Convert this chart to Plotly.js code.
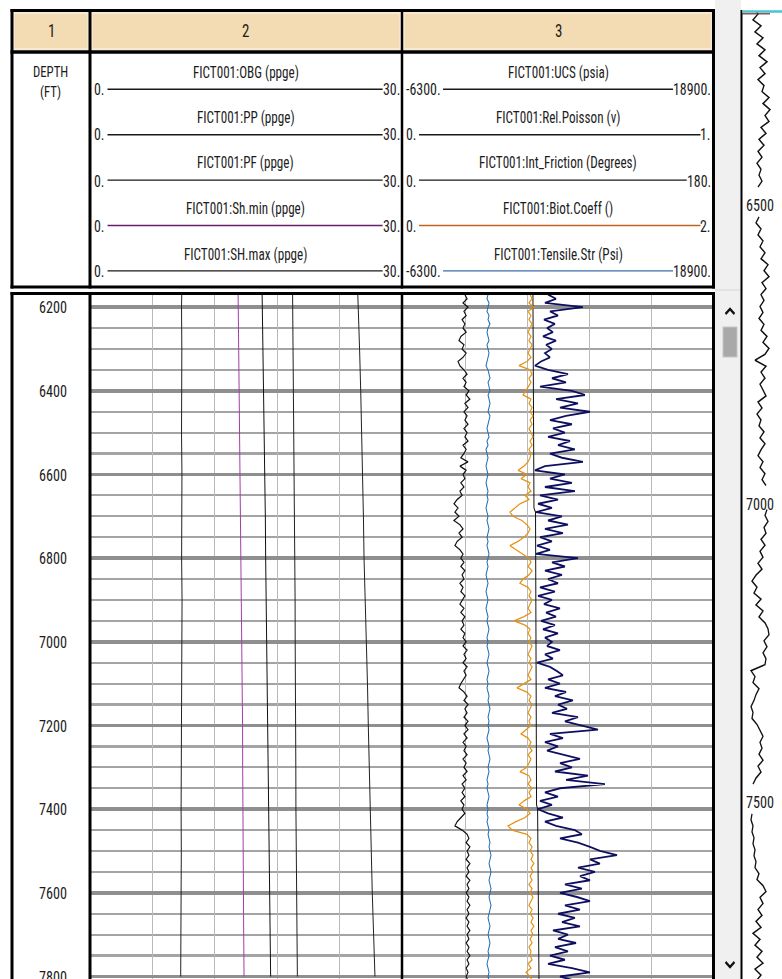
<!DOCTYPE html>
<html><head><meta charset="utf-8">
<script src="https://cdn.plot.ly/plotly-3.0.1.min.js"></script>
<style>
html,body{margin:0;padding:0;background:#fff;overflow:hidden;width:782px;height:979px}
#chart{width:782px;transform-origin:0 0;}
</style>
</head><body><div id="chart"></div>
<script>
// ---------------- DATA ----------------
// Track 2 (ppge, scale 0-30)
const depthT2 = [6170,6200,6300,6400,6500,6600,6700,6800,6900,7000,7100,7200,7300,7400,7500,7600,7700,7800];
const obg   = [25.75,25.80,25.92,26.03,26.13,26.22,26.29,26.35,26.47,26.60,26.68,26.76,26.84,26.92,27.03,27.14,27.27,27.40];
const pp    = [8.82,8.80,8.83,8.78,8.80,8.84,8.79,8.81,8.85,8.82,8.80,8.77,8.79,8.76,8.78,8.75,8.74,8.72];
const pf    = [16.55,16.57,16.63,16.70,16.76,16.83,16.86,16.89,16.94,16.99,17.01,17.02,17.12,17.16,17.20,17.24,17.30,17.37];
const shmin = [14.24,14.26,14.30,14.34,14.38,14.42,14.48,14.55,14.60,14.65,14.66,14.67,14.68,14.69,14.72,14.75,14.78,14.81];
const shmax = [19.48,19.49,19.52,19.58,19.65,19.68,19.71,19.71,19.72,19.73,19.77,19.78,19.79,19.80,19.82,19.84,19.88,19.94];

// Track 3 and overview strip, sampled every 10 ft
const depth10 = [
6170,6180,6190,6200,6210,6220,6230,6240,6250,6260,
6270,6280,6290,6300,6310,6320,6330,6340,6350,6360,
6370,6380,6390,6400,6410,6420,6430,6440,6450,6460,
6470,6480,6490,6500,6510,6520,6530,6540,6550,6560,
6570,6580,6590,6600,6610,6620,6630,6640,6650,6660,
6670,6680,6690,6700,6710,6720,6730,6740,6750,6760,
6770,6780,6790,6800,6810,6820,6830,6840,6850,6860,
6870,6880,6890,6900,6910,6920,6930,6940,6950,6960,
6970,6980,6990,7000,7010,7020,7030,7040,7050,7060,
7070,7080,7090,7100,7110,7120,7130,7140,7150,7160,
7170,7180,7190,7200,7210,7220,7230,7240,7250,7260,
7270,7280,7290,7300,7310,7320,7330,7340,7350,7360,
7370,7380,7390,7400,7410,7420,7430,7440,7450,7460,
7470,7480,7490,7500,7510,7520,7530,7540,7550,7560,
7570,7580,7590,7600,7610,7620,7630,7640,7650,7660,
7670,7680,7690,7700,7710,7720,7730,7740,7750,7760,
7770,7780,7790,7800,7810];

const ucs = [
5450,6100,5200,8280,5610,6260,5120,6010,5370,5850,
5040,6100,5290,5770,5200,5610,4880,4390,5450,7070,
5770,6910,4800,7390,8440,6100,7880,6420,8850,6910,
5610,7390,5850,6820,5450,7230,6260,7630,5610,6580,
8280,5200,4390,6820,5610,7390,5200,7630,4800,6260,
4640,5770,4480,6580,5450,7070,5200,6660,4800,5770,
4560,5610,4480,7880,5770,6820,5200,6580,5450,6260,
4800,6010,4640,5770,5120,6420,5290,6100,4880,6010,
5040,6260,5200,5770,5370,6420,5200,5850,4560,5610,
6180,6660,5450,6420,5200,6910,6010,7470,6260,6990,
5770,7880,6820,8280,9500,5610,6660,5200,6260,5370,
6820,8040,6420,7390,6010,8690,6910,10060,6420,5200,
6260,4800,5770,4640,5450,6660,5200,6100,7630,8200,
6420,7880,8850,9660,11040,8850,9660,7880,9250,8040,
8850,6820,8200,6420,7800,8850,6820,8040,6260,7630,
6580,8040,5850,7070,6260,7720,6010,7070,5610,6820,
5450,7390,8850,6420,7630];

const poisson = [
0.199,0.206,0.193,0.209,0.196,0.203,0.190,0.199,0.193,0.203,
0.186,0.180,0.196,0.190,0.203,0.193,0.177,0.183,0.196,0.206,
0.193,0.203,0.196,0.212,0.203,0.215,0.199,0.209,0.196,0.206,
0.199,0.209,0.196,0.206,0.199,0.209,0.193,0.203,0.196,0.186,
0.209,0.183,0.203,0.193,0.199,0.186,0.196,0.183,0.190,0.174,
0.164,0.177,0.167,0.180,0.164,0.183,0.193,0.180,0.190,0.174,
0.167,0.183,0.193,0.186,0.196,0.186,0.199,0.190,0.196,0.183,
0.193,0.186,0.199,0.190,0.183,0.196,0.186,0.199,0.190,0.196,
0.186,0.199,0.193,0.203,0.193,0.206,0.196,0.203,0.193,0.206,
0.196,0.203,0.193,0.186,0.180,0.196,0.206,0.196,0.209,0.199,
0.206,0.196,0.209,0.199,0.209,0.196,0.206,0.193,0.203,0.196,
0.206,0.193,0.203,0.196,0.206,0.193,0.203,0.190,0.199,0.190,
0.199,0.186,0.196,0.190,0.199,0.186,0.174,0.167,0.190,0.206,
0.212,0.203,0.215,0.206,0.212,0.203,0.215,0.206,0.212,0.203,
0.215,0.206,0.212,0.203,0.212,0.206,0.215,0.206,0.212,0.203,
0.212,0.206,0.215,0.206,0.212,0.203,0.212,0.206,0.215,0.206,
0.212,0.203,0.209,0.203,0.209];

const biot = [
0.817,0.830,0.810,0.842,0.804,0.823,0.810,0.830,0.817,0.804,
0.823,0.810,0.830,0.817,0.804,0.823,0.797,0.746,0.817,0.830,
0.810,0.823,0.804,0.791,0.772,0.823,0.810,0.830,0.817,0.836,
0.817,0.830,0.810,0.823,0.836,0.817,0.830,0.810,0.823,0.817,
0.804,0.778,0.740,0.797,0.759,0.817,0.804,0.823,0.785,0.810,
0.752,0.720,0.688,0.707,0.765,0.797,0.817,0.804,0.778,0.740,
0.688,0.727,0.765,0.810,0.823,0.804,0.830,0.810,0.772,0.752,
0.804,0.823,0.810,0.830,0.817,0.804,0.823,0.778,0.714,0.785,
0.817,0.804,0.823,0.810,0.830,0.817,0.804,0.823,0.810,0.830,
0.817,0.804,0.823,0.778,0.733,0.797,0.823,0.810,0.830,0.817,
0.804,0.823,0.810,0.823,0.791,0.759,0.804,0.823,0.810,0.830,
0.804,0.823,0.810,0.797,0.752,0.810,0.823,0.804,0.830,0.810,
0.823,0.778,0.746,0.797,0.817,0.785,0.727,0.675,0.701,0.797,
0.823,0.810,0.830,0.817,0.836,0.823,0.842,0.823,0.836,0.817,
0.830,0.810,0.830,0.817,0.836,0.823,0.810,0.830,0.817,0.836,
0.823,0.842,0.823,0.836,0.817,0.830,0.810,0.823,0.817,0.830,
0.804,0.823,0.791,0.817,0.830];

const tensile = [
590,505,670,590,505,670,590,750,590,505,
590,670,505,590,670,590,505,425,590,670,
750,590,670,750,590,670,750,670,590,750,
670,590,505,590,670,505,590,425,505,590,
505,425,505,590,505,425,505,590,505,590,
505,425,505,590,505,590,670,590,505,590,
505,590,670,590,505,590,505,425,505,590,
505,425,505,590,505,425,505,590,505,590,
670,590,505,590,505,590,670,590,505,590,
670,590,505,590,505,590,670,590,670,750,
670,590,670,590,670,590,505,590,670,590,
670,750,670,590,670,590,505,590,505,590,
670,590,505,590,505,590,505,590,670,590,
670,750,670,750,830,750,670,750,830,750,
670,750,830,750,670,750,830,750,670,590,
670,750,670,590,670,750,670,590,670,590,
505,590,670,590,670];

const frictionDepth = [6170,6680,6690,7390,7400,7810];
const friction      = [75.2,75.8,76.7,77.3,77.9,78.7];

// Overview strip curve (right side), gaps where depth labels sit
const overview = [
12,15,10,18,12,20,14,22,16,24,
17,22,15,21,19,26,20,27,22,26,
18,23,16,21,15,19,14,18,16,19,
15,null,null,null,null,16,13,18,15,20,
17,22,18,25,21,26,19,23,18,21,
17,20,16,21,18,24,20,26,22,12,
23,18,22,17,20,23,15,19,14,18,
16,21,17,22,18,15,20,17,22,19,
23,null,null,null,24,22,25,21,23,18,
22,17,20,15,19,13,9,14,11,18,
13,20,16,22,25,26,21,24,20,23,
22,8,12,10,16,13,11,8,10,9,
14,17,20,17,19,16,20,15,18,13,
10,null,null,null,null,9,8,10,9,11,
10,12,11,13,12,16,14,20,23,17,
20,15,19,13,18,10,17,12,19,14,
20,12,18,13,16];

const track2Names  = ['FICT001:OBG (ppge)','FICT001:PP (ppge)','FICT001:PF (ppge)','FICT001:Sh.min (ppge)','FICT001:SH.max (ppge)'];
const track2Left   = ['0.','0.','0.','0.','0.'];
const track2Right  = ['30.','30.','30.','30.','30.'];
const track3Names  = ['FICT001:UCS (psia)','FICT001:Rel.Poisson (v)','FICT001:Int_Friction (Degrees)','FICT001:Biot.Coeff ()','FICT001:Tensile.Str (Psi)'];
const track3Left   = ['-6300.','0.','0.','0.','-6300.'];
const track3Right  = ['18900.','1.','180.','2.','18900.'];
const trackNumbers = ['1','2','3'];
const depthHeader  = 'DEPTH<br>(FT)';

// ---------------- LAYOUT HELPERS ----------------
const W = 782, H = 979;
const LH = 802;                 // plotly height, stretched vertically by CSS
const STRETCH = H / LH;
document.getElementById('chart').style.height = LH + 'px';
document.getElementById('chart').style.transform = 'scaleY(' + STRETCH + ')';
const fx = x => x / W;
const fy = y => 1 - y / H;

const ctx = document.createElement('canvas').getContext('2d');
function tw(t, fam, size){ ctx.font = size + 'px ' + fam; return ctx.measureText(t).width; }
let FAM = '"Liberation Sans", Arial, sans-serif';
const cands = ['"Liberation Sans Narrow"','"Arial Narrow"','"DejaVu Sans Condensed"','"Roboto Condensed"'];
for (const c of cands) {
  if (tw('FICT001:OBG (ppge)', c + ', monospace', 40) < tw('FICT001:OBG (ppge)', '"Liberation Sans"', 40) * 0.93) {
    FAM = c + ', "Liberation Sans", sans-serif'; break;
  }
}
const fit = (t, target) => target / (tw(t, FAM, 100) / 100);
const FS_TITLE = fit('FICT001:OBG (ppge)', 106);
const FS_SCALE = fit('18900.', 38);
const FS_DEPTH = fit('6200', 28);
const TXT = '#1c1c1c';

const shapes = [];
function hline(x0, x1, y, color, width){ shapes.push({type:'line', xref:'paper', yref:'paper', x0:fx(x0), x1:fx(x1), y0:fy(y), y1:fy(y), line:{color, width:width/STRETCH}, layer:'above'}); }
function vline(x, y0, y1, color, width){ shapes.push({type:'line', xref:'paper', yref:'paper', x0:fx(x), x1:fx(x), y0:fy(y0), y1:fy(y1), line:{color, width}, layer:'above'}); }
function rect(x0, y0, x1, y1, fill, lc, lw, layer){ shapes.push({type:'rect', xref:'paper', yref:'paper', x0:fx(x0), x1:fx(x1), y0:fy(y0), y1:fy(y1), fillcolor:fill, line:{color:lc || 'rgba(0,0,0,0)', width:lw || 0}, layer:layer || 'below'}); }
function path(d, color, width){ shapes.push({type:'path', xref:'paper', yref:'paper', path:d, line:{color, width}, layer:'above'}); }

const ann = [];
function txt(t, x, y, size, xanchor, color){
  ann.push({text:t, x:fx(x), y:fy(y), xref:'paper', yref:'paper', showarrow:false, xanchor:xanchor || 'center', yanchor:'middle',
            borderpad:0, font:{family:FAM, size:size, color:color || TXT}});
}

// background pieces
rect(715, 0, 741, 979, '#f0f0f0');
rect(14, 13, 88, 49, '#f3dcb3', '#f8ead2', 1.5);
rect(92, 13, 400, 49, '#f3dcb3', '#f8ead2', 1.5);
rect(404, 13, 711.5, 49, '#f3dcb3', '#f8ead2', 1.5);

// header box
hline(10.5, 715, 10.5, '#000', 3);
hline(10.5, 715, 52, '#000', 3.5);
hline(10.5, 715, 287, '#000', 3);
vline(12, 9, 288.5, '#000', 3);
vline(90, 9, 288.5, '#000', 3);
vline(402, 9, 288.5, '#000', 2.5);
vline(713.5, 9, 288.5, '#000', 3);
// data box
hline(10.5, 715, 293.5, '#000', 3);
vline(12, 292, 979, '#000', 3);
vline(90, 292, 979, '#000', 3);
vline(402, 292, 979, '#000', 2.5);
vline(713.5, 292, 979, '#000', 3);

// scrollbar
hline(715, 741, 290, '#d2d2d2', 1);
rect(723, 327, 737, 357, '#a9a9a9', '#c6c6c6', 1, 'above');
path('M' + fx(725.5) + ',' + fy(314) + ' L' + fx(730) + ',' + fy(309) + ' L' + fx(734.5) + ',' + fy(314), '#111', 2);
path('M' + fx(725.5) + ',' + fy(962) + ' L' + fx(730) + ',' + fy(967) + ' L' + fx(734.5) + ',' + fy(962), '#111', 2);

// overview strip frame
vline(741.5, 10, 979, '#000', 2);
hline(742, 782, 11.5, '#46c6d0', 2.5);
hline(742, 770, 13.8, '#7a2626', 1.2);

// header texts
txt(trackNumbers[0], 51, 31, 15);
txt(trackNumbers[1], 246, 31, 15);
txt(trackNumbers[2], 558, 31, 15);
txt(depthHeader, 50.5, 82, FS_TITLE * 0.97);

const t2col = ['#1a1a1a','#1a1a1a','#1a1a1a','#6b1d70','#1a1a1a'];
const t3col = ['#1a1a1a','#1a1a1a','#1a1a1a','#c0651f','#3d6ca8'];
for (let i = 0; i < 5; i++) {
  const ty = 72.5 + 45.4 * i, ly = 89.3 + 45.4 * i;
  // track 2
  txt(track2Names[i], 246, ty, FS_TITLE);
  txt(track2Left[i], 93, ly, FS_SCALE, 'left');
  txt(track2Right[i], 401, ly, FS_SCALE, 'right');
  hline(93 + tw(track2Left[i], FAM, FS_SCALE) + 4, 401 - tw(track2Right[i], FAM, FS_SCALE) - 1, ly, t2col[i], 1.4);
  // track 3
  txt(track3Names[i], 558, ty, FS_TITLE);
  txt(track3Left[i], 404.5, ly, FS_SCALE, 'left');
  txt(track3Right[i], 712, ly, FS_SCALE, 'right');
  hline(404.5 + tw(track3Left[i], FAM, FS_SCALE) + 4, 712 - tw(track3Right[i], FAM, FS_SCALE) - 1, ly, t3col[i], 1.4);
}

// ---------------- TRACES ----------------
const L = (x, y, xa, ya, color, width, extra) => Object.assign({type:'scatter', mode:'lines', x, y, xaxis:xa, yaxis:ya,
  line:{color, width}, hoverinfo:'skip', showlegend:false}, extra || {});
const traces = [
  L(pp,    depthT2, 'x', 'y', '#222', 1),
  L(shmin, depthT2, 'x', 'y', '#a43ca8', 1),
  L(pf,    depthT2, 'x', 'y', '#111', 1),
  L(shmax, depthT2, 'x', 'y', '#222', 1),
  L(obg,   depthT2, 'x', 'y', '#222', 1),
  L(tensile, depth10, 'x2', 'y2', '#1f6db5', 1),
  L(poisson, depth10, 'x3', 'y2', '#111', 1.1),
  L(friction, frictionDepth, 'x4', 'y2', '#111', 1),
  L(biot, depth10, 'x5', 'y2', '#e8900c', 1.1),
  L(ucs, depth10, 'x6', 'y2', '#0e0e60', 1.5),
  L(overview, depth10, 'x7', 'y3', '#111', 1.3, {connectgaps:false})
];

// ---------------- AXES ----------------
const yRange = [7806, 6171];
const yDom = [0, fy(295)];
const grid = {showgrid:true, gridcolor:'#8f8f8f', gridwidth:3.4/STRETCH, tick0:0, dtick:200,
  minor:{tick0:0, dtick:50, showgrid:true, gridcolor:'#a4a4a4', gridwidth:2.2/STRETCH, ticks:''},
  zeroline:false, showline:false, ticks:''};
const xgrid = {showgrid:true, gridcolor:'#b9b9b9', gridwidth:1.3, zeroline:false, showline:false, ticks:'', showticklabels:false};
const ovl = {overlaying:'x2', anchor:'y2', domain:[fx(403), fx(714)], showgrid:false, zeroline:false, showline:false, ticks:'', showticklabels:false};

const layout = {
  width:W, height:LH, margin:{l:0, r:0, t:0, b:0},
  paper_bgcolor:'#ffffff', plot_bgcolor:'rgba(0,0,0,0)',
  showlegend:false, hovermode:false,
  xaxis: Object.assign({domain:[fx(90), fx(402)], range:[0, 30], tick0:0, dtick:6, anchor:'y'}, xgrid),
  yaxis: Object.assign({domain:yDom, range:yRange, anchor:'x', showticklabels:true, ticklabelstandoff:22, ticklabeloverflow:'allow',
          tickfont:{family:FAM, size:FS_DEPTH, color:TXT}}, grid),
  xaxis2: Object.assign({domain:[fx(403), fx(714)], range:[-6300, 18900], tick0:-6300, dtick:5040, anchor:'y2'}, xgrid),
  yaxis2: Object.assign({domain:yDom, range:yRange, anchor:'x2', matches:'y', showticklabels:false}, grid),
  xaxis3: Object.assign({range:[0, 1]}, ovl),
  xaxis4: Object.assign({range:[0, 180]}, ovl),
  xaxis5: Object.assign({range:[0, 2]}, ovl),
  xaxis6: Object.assign({range:[-6300, 18900]}, ovl),
  xaxis7: {domain:[fx(743), 1], range:[0, 39], anchor:'y3', showgrid:false, zeroline:false, showline:false, ticks:'', showticklabels:false},
  yaxis3: {domain:[0, fy(12)], range:[7796.5, 6176.7], anchor:'x7', tick0:0, dtick:500, showgrid:false, zeroline:false,
           showline:false, ticks:'', ticklabelposition:'inside', tickfont:{family:FAM, size:FS_DEPTH, color:TXT}},
  shapes, annotations:ann
};

Plotly.newPlot('chart', traces, layout, {staticPlot:true, displayModeBar:false});
</script>
</body></html>
